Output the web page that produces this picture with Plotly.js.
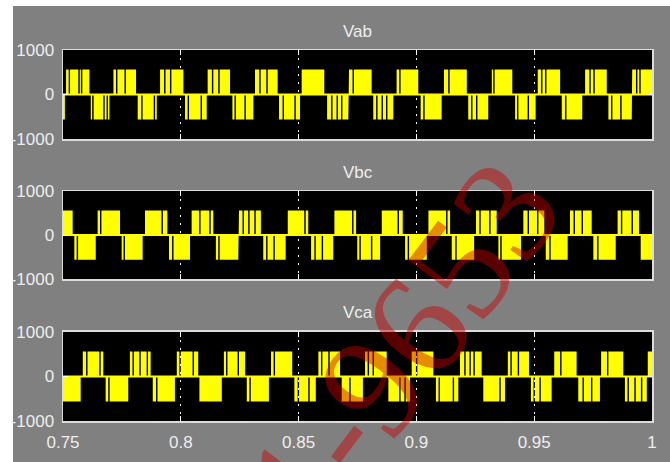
<!DOCTYPE html>
<html><head><meta charset="utf-8">
<script src="https://cdn.plot.ly/plotly-3.0.1.min.js"></script>
<style>
html,body{margin:0;padding:0;background:#ffffff;width:670px;height:462px;overflow:hidden}
#chart{position:absolute;left:13px;top:6px;width:657px;height:456px}
</style>
</head><body><div id="chart"></div>
<script>
// ---- data (time in s, voltage in V) ----
const vabStart = [0.7500,0.7513,0.7618,0.7714,0.7817,0.7912,0.8018,0.8114,0.8219,0.8315,0.8417,0.8513,0.8621,0.8714,0.8817,0.8916,0.9018,0.9117,0.9220,0.9320,0.9419,0.9515,0.9617,0.9716,0.9815,0.9916];
const vabEnd   = [0.7508,0.7612,0.7697,0.7810,0.7898,0.8011,0.8110,0.8209,0.8308,0.8411,0.8506,0.8609,0.8711,0.8810,0.8902,0.9008,0.9107,0.9214,0.9305,0.9407,0.9506,0.9610,0.9704,0.9808,0.9914,1.0000];
const vabLevel = [-560,560,-560,560,-560,560,-560,560,-560,560,-560,560,-560,560,-560,560,-560,560,-560,560,-560,560,-560,560,-560,560];
const vabNotch = [0.7527,0.7568,0.7579,0.7627,0.7674,0.7688,0.7728,0.7764,0.7835,0.7888,0.7932,0.7957,0.8032,0.8087,0.8135,0.8162,0.8231,0.8273,0.8336,0.8366,0.8435,0.8485,0.8641,0.8664,0.8683,0.8732,0.8832,0.8855,0.8874,0.8930,0.9032,0.9138,0.9235,0.9256,0.9329,0.9430,0.9475,0.9532,0.9549,0.9634,0.9737,0.9754,0.9829,0.9868,0.9935,0.9949];

const vbcStart = [0.7500,0.7548,0.7647,0.7749,0.7848,0.7950,0.8046,0.8149,0.8247,0.8350,0.8454,0.8553,0.8652,0.8749,0.8853,0.8952,0.9051,0.9150,0.9253,0.9348,0.9454,0.9549,0.9652,0.9751,0.9854,0.9952];
const vbcEnd   = [0.7541,0.7639,0.7742,0.7838,0.7943,0.8039,0.8138,0.8244,0.8340,0.8445,0.8541,0.8647,0.8744,0.8846,0.8942,0.9044,0.9143,0.9245,0.9341,0.9444,0.9543,0.9642,0.9744,0.9846,0.9945,1.0000];
const vbcLevel = [560,-560,560,-560,560,-560,560,-560,560,-560,560,-560,560,-560,560,-560,560,-560,560,-560,560,-560,560,-560,560,-560];
const vbcNotch = [0.7561,0.7660,0.7760,0.7921,0.7966,0.8081,0.8124,0.8162,0.8265,0.8289,0.8315,0.8365,0.8396,0.8527,0.8570,0.8601,0.8730,0.8761,0.8810,0.8923,0.8966,0.9129,0.9168,0.9270,0.9312,0.9359,0.9475,0.9515,0.9567,0.9670,0.9704,0.9770,0.9871,0.9916];

const vcaStart = [0.7500,0.7584,0.7681,0.7784,0.7881,0.7983,0.8079,0.8183,0.8280,0.8383,0.8482,0.8584,0.8683,0.8782,0.8881,0.8980,0.9083,0.9185,0.9284,0.9388,0.9486,0.9585,0.9687,0.9784,0.9885,0.9982];
const vcaEnd   = [0.7575,0.7671,0.7777,0.7872,0.7975,0.8074,0.8174,0.8273,0.8374,0.8473,0.8573,0.8676,0.8773,0.8874,0.8973,0.9072,0.9178,0.9277,0.9376,0.9478,0.9574,0.9680,0.9779,0.9878,0.9978,1.0000];
const vcaLevel = [-560,560,-560,560,-560,560,-560,560,-560,560,-560,560,-560,560,-560,560,-560,560,-560,560,-560,560,-560,560,-560,560];
const vcaNotch = [0.7601,0.7657,0.7695,0.7798,0.7827,0.7858,0.7898,0.7997,0.8053,0.8195,0.8244,0.8294,0.8397,0.8499,0.8544,0.8598,0.8629,0.8718,0.8796,0.8817,0.8930,0.8952,0.9001,0.9097,0.9157,0.9206,0.9228,0.9245,0.9355,0.9402,0.9433,0.9500,0.9525,0.9613,0.9708,0.9744,0.9812,0.9899,0.9928,0.9956];

const panelTitles = ['Vab','Vbc','Vca'];
const xTickVals = [0.75,0.8,0.85,0.9,0.95,1];
const xTickText = ['0.75','0.8','0.85','0.9','0.95','1'];
const yTickVals = [-1000,0,1000];
const yTickText = ['-1000','0','1000'];
const watermarkText = '1-9653';

// ---- build ----
const NOTCH_W = 0.0006;
function build(start, end, lev, notch) {
  const x = [], y = [];
  for (let i = 0; i < start.length; i++) {
    const s = start[i], e = end[i], L = lev[i];
    x.push(s, s); y.push(0, L);
    notch.filter(n => n > s && n < e).forEach(n => {
      x.push(n - NOTCH_W/2, n - NOTCH_W/2, n + NOTCH_W/2, n + NOTCH_W/2);
      y.push(L, 0, 0, L);
    });
    x.push(e, e); y.push(L, 0);
  }
  return {x, y};
}
const YEL = '#ffff00';
const series = [
  [vabStart, vabEnd, vabLevel, vabNotch],
  [vbcStart, vbcEnd, vbcLevel, vbcNotch],
  [vcaStart, vcaEnd, vcaLevel, vcaNotch]
];
const traces = [];
series.forEach((d, k) => {
  const ax = k === 0 ? '' : String(k + 1);
  const b = build(d[0], d[1], d[2], d[3]);
  traces.push({x: b.x, y: b.y, xaxis: 'x' + ax, yaxis: 'y' + ax, type: 'scatter', mode: 'lines',
    fill: 'tozeroy', fillcolor: YEL, line: {color: YEL, width: 0}, hoverinfo: 'skip', showlegend: false});
  traces.push({x: [d[0][0], d[1][d[1].length - 1]], y: [0, 0], xaxis: 'x' + ax, yaxis: 'y' + ax,
    type: 'scatter', mode: 'lines', line: {color: YEL, width: 2}, hoverinfo: 'skip', showlegend: false});
});

const FONT = 'Liberation Sans, Arial, sans-serif';
const TXT = '#eeeeee';
const domains = [[0.7601, 1], [0.3827, 0.6199], [0, 0.2399]];
const layout = {
  width: 657, height: 456,
  margin: {l: 50, r: 18, t: 44, b: 41},
  paper_bgcolor: '#808080', plot_bgcolor: '#000000',
  font: {family: FONT, size: 17, color: TXT},
  showlegend: false,
  annotations: [],
};
domains.forEach((dom, k) => {
  const ax = k === 0 ? '' : String(k + 1);
  const yname = 'y' + ax;
  layout['xaxis' + ax] = {
    domain: [0, 1], anchor: yname, range: [0.75, 1],
    tickvals: xTickVals, ticktext: xTickText, showticklabels: k === 2,
    ticks: 'inside', ticklen: 5, tickcolor: '#ffffff', tickwidth: 1,
    showline: true, mirror: 'ticks', linecolor: '#dcdcdc', linewidth: 1.5,
    showgrid: true, gridcolor: '#ffffff', gridwidth: 1, griddash: '2px,6px',
    zeroline: false, tickfont: {family: FONT, size: 17, color: TXT}, ticklabelstandoff: 5
  };
  layout['yaxis' + ax] = {
    domain: dom, anchor: 'x' + ax, range: [-1000, 1000],
    tickvals: yTickVals, ticktext: yTickText,
    ticks: 'inside', ticklen: 5, tickcolor: '#ffffff',
    showline: true, mirror: 'ticks', linecolor: '#dcdcdc', linewidth: 1.5,
    showgrid: false, zeroline: false, tickfont: {family: FONT, size: 17, color: TXT}, ticklabelstandoff: 4
  };
  layout.annotations.push({
    text: panelTitles[k], xref: 'paper', yref: 'paper', x: 0.5, y: dom[1] + 19 / 371,
    xanchor: 'center', yanchor: 'middle', showarrow: false,
    font: {family: FONT, size: 17, color: TXT}
  });
});
layout.annotations.push({
  text: watermarkText, xref: 'paper', yref: 'paper', x: 0.575, y: 0.20,
  xanchor: 'center', yanchor: 'middle', showarrow: false, textangle: -53,
  font: {family: 'Liberation Serif, serif', size: 148, color: 'rgba(200,0,0,0.45)'}
});

Plotly.newPlot('chart', traces, layout, {displayModeBar: false, staticPlot: true});
</script>
</body></html>
